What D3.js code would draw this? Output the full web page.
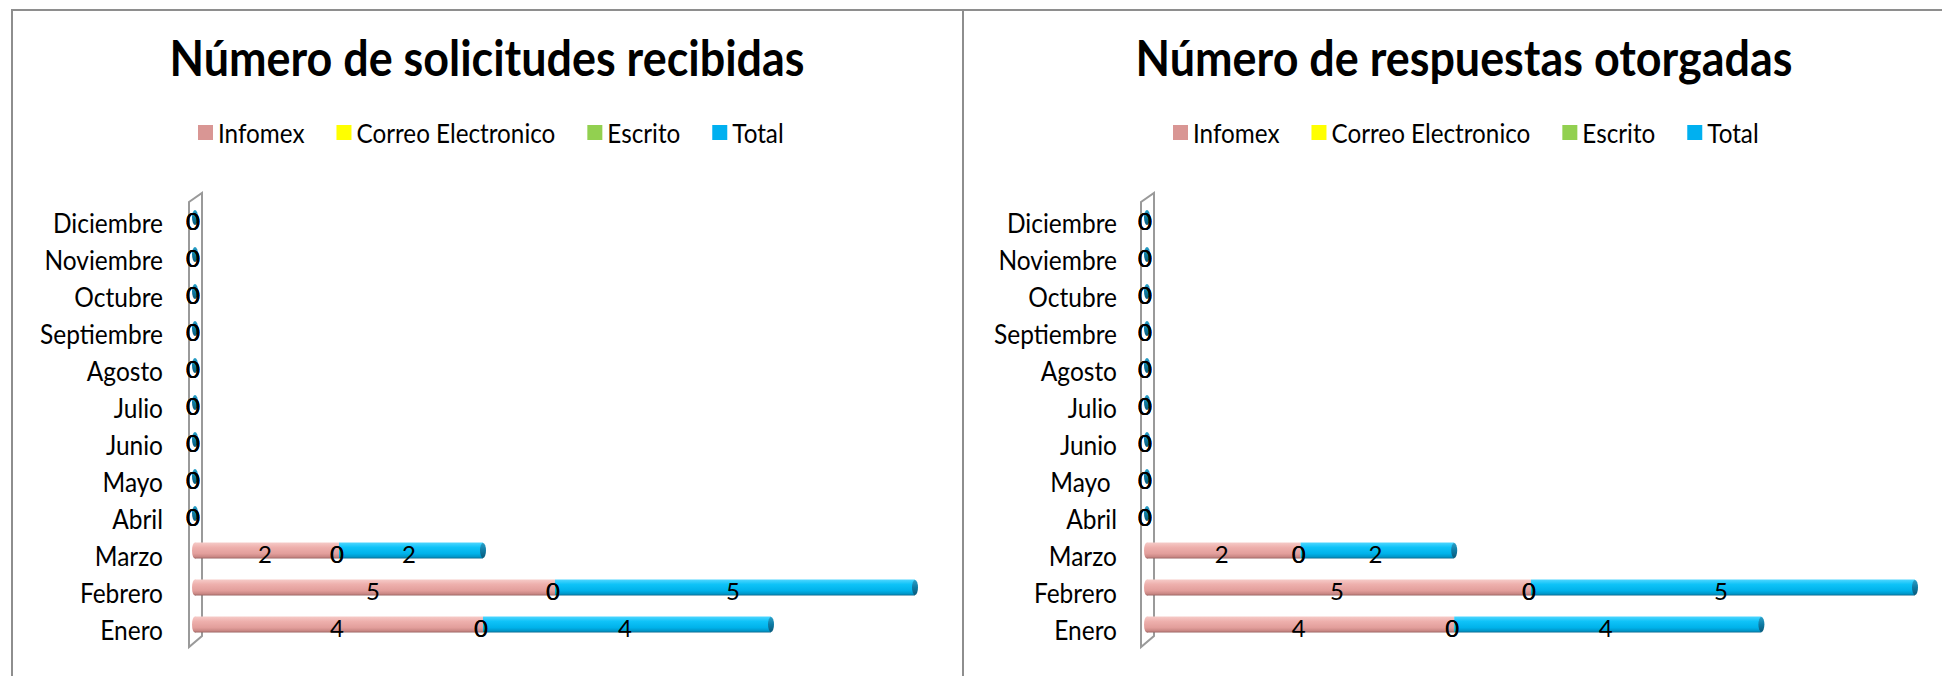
<!DOCTYPE html>
<html>
<head>
<meta charset="utf-8">
<script src="https://cdn.jsdelivr.net/npm/d3@7/dist/d3.min.js"></script>
<style>
  html, body { margin: 0; padding: 0; background: #ffffff; }
  svg { display: block; }
</style>
</head>
<body>
<svg id="chart" width="1942" height="676"></svg>
<script>
// ---------------- DATA ----------------
const months = ["Enero","Febrero","Marzo","Abril","Mayo","Junio","Julio","Agosto","Septiembre","Octubre","Noviembre","Diciembre"];
const monthLabelsSolicitudes = ["Enero","Febrero","Marzo","Abril","Mayo","Junio","Julio","Agosto","Septiembre","Octubre","Noviembre","Diciembre"];
const monthLabelsRespuestas = ["Enero","Febrero","Marzo","Abril","Mayo ","Junio","Julio","Agosto","Septiembre","Octubre","Noviembre","Diciembre"];
const seriesNames = ["Infomex","Correo Electronico","Escrito","Total"];
const seriesColors = ["#D99694","#FFFF00","#92D050","#00B0F0"];

const solInfomex = [4,5,2,0,0,0,0,0,0,0,0,0];
const solCorreo  = [0,0,0,0,0,0,0,0,0,0,0,0];
const solEscrito = [0,0,0,0,0,0,0,0,0,0,0,0];
const solTotal   = [4,5,2,0,0,0,0,0,0,0,0,0];

const resInfomex = [4,5,2,0,0,0,0,0,0,0,0,0];
const resCorreo  = [0,0,0,0,0,0,0,0,0,0,0,0];
const resEscrito = [0,0,0,0,0,0,0,0,0,0,0,0];
const resTotal   = [4,5,2,0,0,0,0,0,0,0,0,0];

const titleSolicitudes = "Número de solicitudes recibidas";
const titleRespuestas = "Número de respuestas otorgadas";

// ---------------- SETUP ----------------
const FONT = "Lato, 'Open Sans', 'Noto Sans', sans-serif";
const svg = d3.select("#chart");
svg.append("rect").attr("width",1942).attr("height",676).attr("fill","#fff");

function measure(text, size, weight) {
  const t = svg.append("text").attr("font-family", FONT).attr("font-size", size)
    .attr("font-weight", weight).style("white-space","pre").text(text);
  const w = t.node().getComputedTextLength();
  t.remove();
  return w;
}
function fitSize(text, weight, target) {
  const base = 40;
  return base * target / measure(text, base, weight);
}
// width each string would have at the "fitted" size, drawn at a taller size
function condense(sel, fitted, shown, weight) {
  sel.each(function() {
    const s = d3.select(this);
    const w = measure(s.text(), fitted, weight || "normal");
    s.attr("font-size", shown).attr("textLength", w).attr("lengthAdjust", "spacingAndGlyphs");
  });
}

const titleFit = fitSize(titleSolicitudes, "bold", 635);
const legendFit = fitSize("Correo Electronico", "normal", 199);
const catFit = fitSize("Septiembre", "normal", 123);
const valueSize = 24;

// gradients
const defs = svg.append("defs");
function vGrad(id, stops) {
  const g = defs.append("linearGradient").attr("id", id)
    .attr("x1",0).attr("y1",0).attr("x2",0).attr("y2",1);
  stops.forEach(s => g.append("stop").attr("offset", s[0]).attr("stop-color", s[1]));
}
vGrad("g0", [["0%","#f6cbc8"],["30%","#eeb0ad"],["70%","#e29e9b"],["90%","#c88683"],["100%","#9a6462"]]);
vGrad("g1", [["0%","#ffff99"],["40%","#ffff00"],["100%","#b3b300"]]);
vGrad("g2", [["0%","#c2e69a"],["40%","#92D050"],["100%","#5e8f2c"]]);
vGrad("g3", [["0%","#4fd6ff"],["30%","#0fc3f8"],["70%","#00b2ea"],["90%","#0096c8"],["100%","#0a6a90"]]);
vGrad("gcap", [["0%","#2aa0c8"],["50%","#0f7aa3"],["100%","#0a5a7a"]]);

// borders
svg.append("path")
  .attr("d", "M12,676 L12,10 L1942,10 M963,10 L963,676")
  .attr("fill","none").attr("stroke","#8e8e8e").attr("stroke-width",2);

// ---------------- PANEL ----------------
function drawPanel(cfg) {
  const g = svg.append("g");
  const values = [cfg.infomex, cfg.correo, cfg.escrito, cfg.total];
  const rows = months.map((m, i) => {
    const o = { month: m };
    seriesNames.forEach((s, k) => o[s] = values[k][i]);
    return o;
  });
  const stacked = d3.stack().keys(seriesNames)(rows);
  const maxV = d3.max(rows, r => d3.sum(seriesNames, s => r[s]));

  const x = d3.scaleLinear().domain([0, maxV]).range(cfg.xRange);
  const y = d3.scaleBand().domain(months).range([648, 204]);
  const labelMap = new Map(months.map((m, i) => [m, cfg.labels[i]]));

  // title
  g.append("text").attr("x", cfg.titleX).attr("y", 76)
    .attr("text-anchor","middle").attr("font-family", FONT).attr("font-weight","bold")
    .attr("fill","#000").text(cfg.title)
    .call(condense, titleFit, titleFit * 1.1, "bold");

  // legend
  let lx = cfg.legendX;
  seriesNames.forEach((s, k) => {
    g.append("rect").attr("x", lx).attr("y", 125).attr("width", 15).attr("height", 15)
      .attr("fill", seriesColors[k]);
    g.append("text").attr("x", lx + 20).attr("y", 132.5)
      .attr("dominant-baseline","central").attr("font-family", FONT)
      .attr("fill","#000").text(s)
      .call(condense, legendFit, legendFit * 1.1);
    lx = lx + 20 + measure(s, legendFit, "normal") + 32;
  });

  // back wall (3D)
  const x0 = x(0);
  const wl = x0 - 6, wr = x0 + 7;
  g.append("path")
    .attr("d", `M${wl},647 L${wl},202 L${wr},193 L${wr},636 Z`)
    .attr("fill","none").attr("stroke","#9a9a9a").attr("stroke-width",2);

  // category labels
  const axis = d3.axisLeft(y).tickSize(0).tickPadding(0).tickFormat(m => labelMap.get(m));
  const ax = g.append("g").attr("transform", `translate(${cfg.labelX},0)`).call(axis);
  ax.select(".domain").remove();
  ax.selectAll("text").attr("font-family", FONT)
    .attr("fill","#000").style("white-space","pre").attr("dy","0.35em").attr("y", 1)
    .call(condense, catFit, catFit * 1.1);

  const bh = 16;
  const cy = m => y(m) + y.bandwidth() / 2 - 5;

  // left rounded end of pink cylinder
  g.selectAll(".lcap").data(rows.filter(r => r[seriesNames[0]] > 0)).join("ellipse")
    .attr("cx", x0).attr("cy", r => cy(r.month)).attr("rx", 3).attr("ry", bh/2)
    .attr("fill", "url(#g0)");

  stacked.forEach((layer, k) => {
    g.selectAll(".bar" + k).data(layer.filter(d => d[1] - d[0] > 0)).join("rect")
      .attr("x", d => x(d[0])).attr("width", d => x(d[1]) - x(d[0]))
      .attr("y", d => cy(d.data.month) - bh/2).attr("height", bh)
      .attr("fill", `url(#g${k})`);
  });
  // end caps of total cylinder
  const top = stacked[3];
  g.selectAll(".rcap").data(top).join("ellipse")
    .attr("cx", d => x(d[1])).attr("cy", d => cy(d.data.month))
    .attr("rx", 3).attr("ry", bh/2 - 0.5).attr("fill","url(#gcap)");

  // value labels
  stacked.forEach((layer, k) => {
    g.selectAll(".lab" + k).data(layer).join("text")
      .attr("x", d => x((d[0] + d[1]) / 2) - 2)
      .attr("y", d => cy(d.data.month) + 3)
      .attr("dominant-baseline","central").attr("text-anchor","middle")
      .attr("font-family", FONT).attr("font-size", valueSize).attr("fill","#000")
      .text(d => d[1] - d[0]);
  });
}

drawPanel({
  title: titleSolicitudes, labels: monthLabelsSolicitudes,
  infomex: solInfomex, correo: solCorreo, escrito: solEscrito, total: solTotal,
  xRange: [195, 915], titleX: 487, legendX: 198, labelX: 163
});
drawPanel({
  title: titleRespuestas, labels: monthLabelsRespuestas,
  infomex: resInfomex, correo: resCorreo, escrito: resEscrito, total: resTotal,
  xRange: [1147, 1915], titleX: 1464, legendX: 1173, labelX: 1117
});
</script>
</body>
</html>
